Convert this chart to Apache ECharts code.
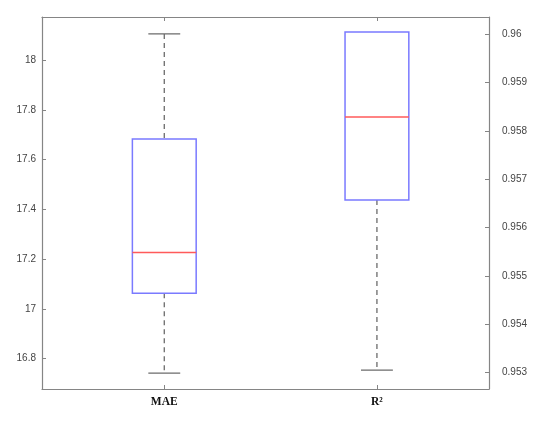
<!DOCTYPE html>
<html>
<head>
<meta charset="utf-8">
<script src="https://cdn.jsdelivr.net/npm/echarts@6/dist/echarts.min.js"></script>
<style>
html,body{margin:0;padding:0;background:#fff;}
#chart{width:550px;height:422px;}
</style>
</head>
<body>
<div id="chart"></div>
<script>
// categories and their x positions
var categories = ['MAE', 'R²'];
var categoryPositions = [1, 2];
// box statistics: [min, Q1, median, Q3, max]
var maeBox = [16.742, 17.063, 17.227, 17.683, 18.106];
var r2Box = [0.95305, 0.95657, 0.95829, 0.96005, 0.96005];
// tick labels
var leftTicks = [16.8, 17, 17.2, 17.4, 17.6, 17.8, 18];
var rightTicks = [0.953, 0.954, 0.955, 0.956, 0.957, 0.958, 0.959, 0.96];

var BOX_W = 0.3, CAP_W = 0.15;
var axisColor = '#858585';
var labelColor = '#444444';

function renderBox(params, api) {
  var x = api.value(0);
  var vmin = api.value(1), q1 = api.value(2), med = api.value(3), q3 = api.value(4), vmax = api.value(5);
  var pMin = api.coord([x, vmin]), pQ1 = api.coord([x, q1]), pMed = api.coord([x, med]);
  var pQ3 = api.coord([x, q3]), pMax = api.coord([x, vmax]);
  var bw = api.size([BOX_W, 0])[0];
  var cw = api.size([CAP_W, 0])[0];
  var cx = pMed[0];
  var children = [];
  var dashStyle = {stroke: '#6b6b6b', lineWidth: 1.3, lineDash: [5, 4], fill: null};
  var capStyle = {stroke: '#6b6b6b', lineWidth: 1.3, fill: null};
  if (pQ3[1] - pMax[1] > 0.5) {
    children.push({type: 'line', shape: {x1: cx, y1: pMax[1], x2: cx, y2: pQ3[1]}, style: dashStyle});
    children.push({type: 'line', shape: {x1: cx - cw / 2, y1: pMax[1], x2: cx + cw / 2, y2: pMax[1]}, style: capStyle});
  }
  if (pMin[1] - pQ1[1] > 0.5) {
    children.push({type: 'line', shape: {x1: cx, y1: pQ1[1], x2: cx, y2: pMin[1]}, style: dashStyle});
    children.push({type: 'line', shape: {x1: cx - cw / 2, y1: pMin[1], x2: cx + cw / 2, y2: pMin[1]}, style: capStyle});
  }
  children.push({type: 'rect', shape: {x: cx - bw / 2, y: pQ3[1], width: bw, height: pQ1[1] - pQ3[1]},
    style: {stroke: '#7a7aff', lineWidth: 1.5, fill: null}});
  children.push({type: 'line', shape: {x1: cx - bw / 2, y1: pMed[1], x2: cx + bw / 2, y2: pMed[1]},
    style: {stroke: '#ff5a5a', lineWidth: 1.3, fill: null}});
  return {type: 'group', children: children};
}

var chart = echarts.init(document.getElementById('chart'), null, {renderer: 'canvas'});
var option = {
  backgroundColor: '#ffffff',
  animation: false,
  grid: {left: 42, right: 61, top: 17, bottom: 33, containLabel: false},
  xAxis: [{
    type: 'value', position: 'bottom', min: 0.425, max: 2.527,
    splitLine: {show: false},
    axisLine: {show: true, lineStyle: {color: axisColor, width: 1.2}},
    axisTick: {show: true, inside: true, length: 4, customValues: categoryPositions, lineStyle: {color: axisColor}},
    axisLabel: {
      show: true, customValues: categoryPositions, margin: 7,
      fontFamily: '"Liberation Serif", "Times New Roman", serif', fontWeight: 'bold', fontSize: 11.5, color: '#111',
      formatter: function (v) { var i = categoryPositions.indexOf(Math.round(v)); return i >= 0 ? categories[i] : ''; }
    }
  }, {
    type: 'value', position: 'top', min: 0.425, max: 2.527,
    splitLine: {show: false},
    axisLine: {show: true, lineStyle: {color: axisColor, width: 1.2}},
    axisTick: {show: true, inside: true, length: 4, customValues: categoryPositions, lineStyle: {color: axisColor}},
    axisLabel: {show: false}
  }],
  yAxis: [{
    type: 'value', position: 'left', min: 16.678, max: 18.174,
    splitLine: {show: false},
    axisLine: {show: true, lineStyle: {color: axisColor, width: 1.2}},
    axisTick: {show: true, inside: true, length: 4, customValues: leftTicks, lineStyle: {color: axisColor}},
    axisLabel: {show: true, customValues: leftTicks, margin: 6, fontFamily: '"Liberation Sans", Arial, sans-serif', fontSize: 10, color: labelColor}
  }, {
    type: 'value', position: 'right', min: 0.95266, max: 0.96036,
    splitLine: {show: false},
    axisLine: {show: true, lineStyle: {color: axisColor, width: 1.2}},
    axisTick: {show: true, inside: true, length: 4, customValues: rightTicks, lineStyle: {color: axisColor}},
    axisLabel: {show: true, customValues: rightTicks, margin: 13, fontFamily: '"Liberation Sans", Arial, sans-serif', fontSize: 10, color: labelColor,
      formatter: function (v) { return String(parseFloat(v.toFixed(4))); }}
  }],
  series: [{
    type: 'custom', name: 'MAE', xAxisIndex: 0, yAxisIndex: 0,
    renderItem: renderBox, clip: false,
    encode: {x: 0, y: [1, 2, 3, 4, 5]},
    data: [[categoryPositions[0]].concat(maeBox)]
  }, {
    type: 'custom', name: 'R²', xAxisIndex: 0, yAxisIndex: 1,
    renderItem: renderBox, clip: false,
    encode: {x: 0, y: [1, 2, 3, 4, 5]},
    data: [[categoryPositions[1]].concat(r2Box)]
  }]
};
chart.setOption(option);
</script>
</body>
</html>
